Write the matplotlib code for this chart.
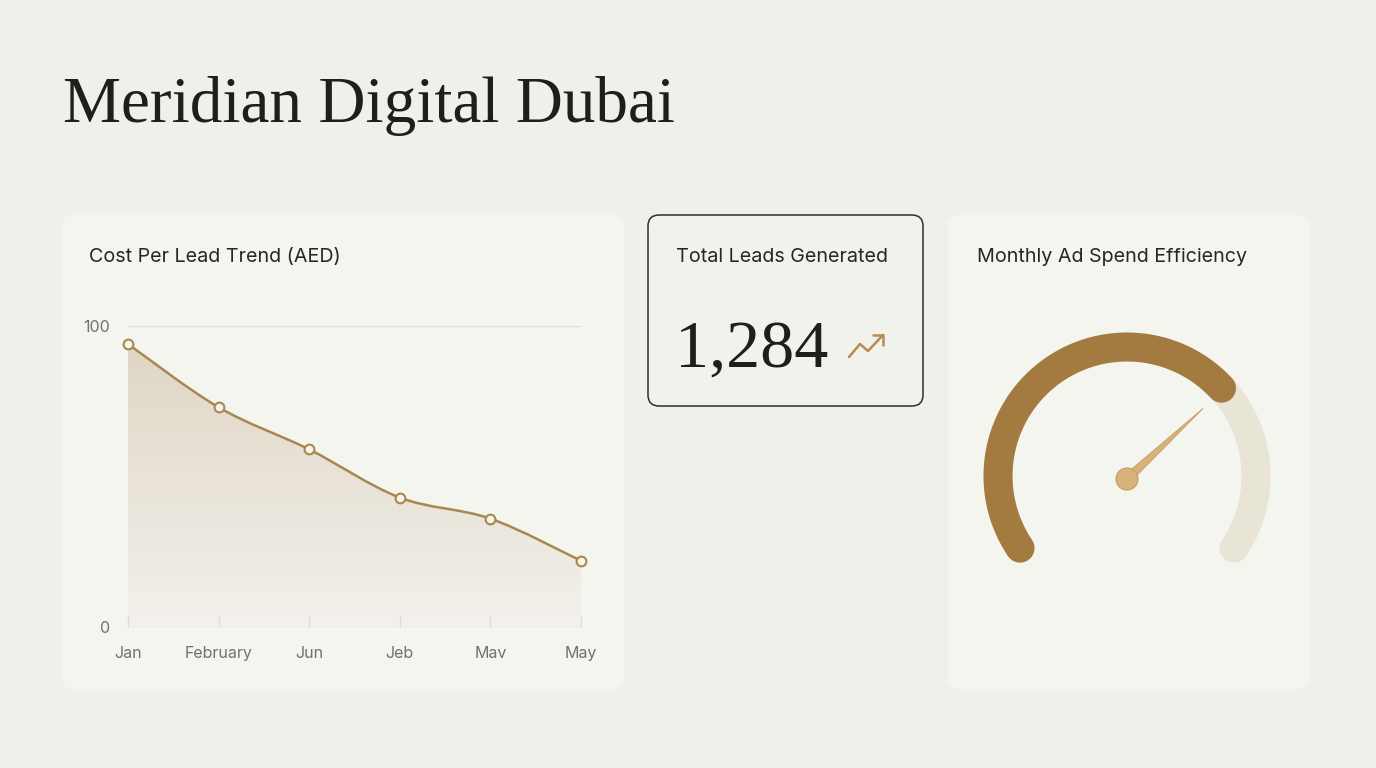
import numpy as np
import matplotlib
matplotlib.use("Agg")
import matplotlib.pyplot as plt
from matplotlib.patches import FancyBboxPatch, PathPatch, Circle, Polygon
from matplotlib.path import Path
from matplotlib.colors import to_rgb

# ---------------- data ----------------
title = "Meridian Digital Dubai"
cpl_title = "Cost Per Lead Trend (AED)"
months = ["Jan", "February", "Jun", "Jeb", "Mav", "May"]
cpl_values = [94, 73, 59, 43, 36, 22]
y_ticks = [0, 100]

kpi_title = "Total Leads Generated"
total_leads = 1284

gauge_title = "Monthly Ad Spend Efficiency"
efficiency_value = 69
efficiency_max = 100

# ---------------- style ----------------
W, H = 1376, 768
BG = "#F0F0EA"
PANEL = "#F5F5F0"
GOLD = "#A8884F"
DARK_ARC = "#A37A40"
LIGHT_ARC = "#E8E5D7"
NEEDLE = "#D7B27B"
SANS = ["Inter", "DejaVu Sans"]
SERIF = ["Liberation Serif", "DejaVu Serif"]

fig = plt.figure(figsize=(W / 100, H / 100), dpi=100, facecolor=BG)
bg = fig.add_axes([0, 0, 1, 1], zorder=0)
bg.set_xlim(0, W)
bg.set_ylim(H, 0)
bg.axis("off")
bg.set_facecolor(BG)


def panel(x0, y0, x1, y1, face, edge="none", lw=0):
    p = FancyBboxPatch((x0, y0), x1 - x0, y1 - y0,
                       boxstyle="round,pad=0,rounding_size=11",
                       facecolor=face, edgecolor=edge, linewidth=lw, zorder=1)
    bg.add_patch(p)


panel(62, 215, 624, 689, PANEL)
panel(648, 215, 923, 406, "#F2F2ED", edge="#2E2E2E", lw=1.1)
panel(948, 215, 1310, 689, PANEL)

# title
bg.text(63, 122, title, fontsize=47, family=SERIF, color="#1E1E1E",
        ha="left", va="baseline", zorder=3)

# panel titles
for x, t in [(89, cpl_title), (676, kpi_title), (977, gauge_title)]:
    bg.text(x, 257, t, fontsize=14.2, family=SANS, color="#262626",
            ha="left", va="center", zorder=3)

# KPI value
bg.text(675, 367, f"{total_leads:,}", fontsize=49, family=SERIF,
        color="#1E1E1E", ha="left", va="baseline", zorder=3)
# trend icon
bg.plot([849, 860, 868, 883], [357, 344, 351, 335], color="#B58B52",
        lw=1.8, solid_capstyle="round", solid_joinstyle="round", zorder=3)
bg.plot([873, 883, 883], [335, 335, 345], color="#B58B52", lw=1.8,
        solid_capstyle="round", solid_joinstyle="round", zorder=3)

# ---------------- line chart ----------------
ax = fig.add_axes([128 / W, 1 - 627 / H, (581 - 128) / W, (627 - 326) / H],
                  zorder=2)
ax.set_facecolor("none")
xs = np.arange(len(months), dtype=float)
ys = np.array(cpl_values, dtype=float)
ax.set_xlim(0, len(months) - 1)
ax.set_ylim(0, 100)

# smooth (Catmull-Rom -> Bezier) path through the points
P = np.column_stack([xs, ys])
Pe = np.vstack([P[0], P, P[-1]])
verts = [tuple(P[0])]
codes = [Path.MOVETO]
for i in range(len(P) - 1):
    p0, p1, p2, p3 = Pe[i], Pe[i + 1], Pe[i + 2], Pe[i + 3]
    c1 = p1 + (p2 - p0) / 6.0
    c2 = p2 - (p3 - p1) / 6.0
    verts += [tuple(c1), tuple(c2), tuple(p2)]
    codes += [Path.CURVE4] * 3
line_path = Path(verts, codes)
area_path = Path(verts + [(xs[-1], 0), (xs[0], 0), tuple(P[0])],
                 codes + [Path.LINETO, Path.LINETO, Path.CLOSEPOLY])

clip = PathPatch(area_path, transform=ax.transData, facecolor="none",
                 edgecolor="none")
ax.add_patch(clip)
top_c = np.array(to_rgb("#DED4C3"))
bot_c = np.array(to_rgb("#F3F1EC"))
t = np.linspace(0, 1, 256)[:, None]
grad = (bot_c[None, :] * (1 - t) + top_c[None, :] * t)[:, None, :]
im = ax.imshow(grad, extent=[xs[0], xs[-1], 0, 100], origin="lower",
               aspect="auto", zorder=1, interpolation="bicubic")
im.set_clip_path(clip)

ax.add_patch(PathPatch(line_path, transform=ax.transData, facecolor="none",
                       edgecolor=GOLD, linewidth=1.8, zorder=3))
ax.plot(xs, ys, linestyle="none", marker="o", markersize=7,
        markerfacecolor="#F7F4EE", markeredgecolor=GOLD,
        markeredgewidth=1.5, zorder=4, clip_on=False)

ax.axhline(100, color="#E0E0DA", lw=1, zorder=0)
ax.axhline(0, color="#DEDED8", lw=1, zorder=2)
for s in ax.spines.values():
    s.set_visible(False)
ax.set_xticks(xs)
ax.set_xticklabels(months)
ax.set_yticks(y_ticks)
ax.set_yticklabels([str(v) for v in y_ticks])
ax.tick_params(axis="x", direction="in", length=8, width=1, color="#DEDED8",
               labelsize=11.5, labelcolor="#707070", pad=14)
ax.tick_params(axis="y", length=0, labelsize=11.5, labelcolor="#707070",
               pad=13)
for lab in ax.get_xticklabels() + ax.get_yticklabels():
    lab.set_family(SANS)

# ---------------- gauge ----------------
cx, cy, r = 1127, 476, 129
a_start, a_end = 214.0, -34.0
frac = efficiency_value / efficiency_max
a_val = a_start + (a_end - a_start) * frac
lw_arc = 29 * 72 / 100


def arc_pts(a0, a1, n=200):
    th = np.radians(np.linspace(a0, a1, n))
    return cx + r * np.cos(th), cy - r * np.sin(th)


bx, by = arc_pts(a_start, a_end)
bg.plot(bx, by, color=LIGHT_ARC, lw=lw_arc, solid_capstyle="round", zorder=2)
vx, vy = arc_pts(a_start, a_val)
bg.plot(vx, vy, color=DARK_ARC, lw=lw_arc, solid_capstyle="round", zorder=3)

hx, hy = 1127, 479
th = np.radians(a_val)
L = 104
tip = (hx + L * np.cos(th), hy - L * np.sin(th))
nx, ny = -np.sin(th), -np.cos(th)
base_w = 4.5
needle = Polygon([(hx + nx * base_w, hy + ny * base_w), tip,
                  (hx - nx * base_w, hy - ny * base_w)], closed=True,
                 facecolor=NEEDLE, edgecolor="#C79E66", lw=0.6, zorder=4)
bg.add_patch(needle)
bg.add_patch(Circle((hx, hy), 11, facecolor=NEEDLE, edgecolor="#C39A62",
                    lw=0.8, zorder=5))

fig.savefig("out.png", dpi=100, facecolor=BG)
